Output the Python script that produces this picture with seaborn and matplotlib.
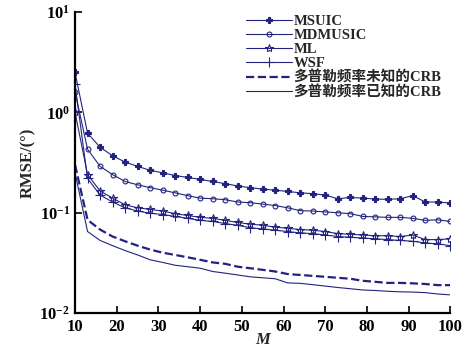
import numpy as np
import pandas as pd
import matplotlib
matplotlib.use('Agg')
import matplotlib.pyplot as plt
import seaborn as sns

# ---------------------------- DATA -----------------------------------

M = list(range(10, 101, 3))

msuic = [2.5, 0.62, 0.45, 0.37, 0.32, 0.29, 0.265, 0.25, 0.235, 0.225, 0.215,
         0.205, 0.195, 0.185, 0.178, 0.172, 0.168, 0.163, 0.158, 0.155, 0.150,
         0.138, 0.142, 0.140, 0.137, 0.136, 0.138, 0.148, 0.128, 0.128, 0.125]

mdmusic = [1.6, 0.43, 0.29, 0.24, 0.205, 0.19, 0.178, 0.168, 0.158, 0.148, 0.14,
           0.138, 0.135, 0.128, 0.126, 0.122, 0.118, 0.112, 0.105, 0.104, 0.102,
           0.100, 0.098, 0.092, 0.091, 0.090, 0.090, 0.088, 0.084, 0.085, 0.082]

ml = [1.0, 0.24, 0.165, 0.14, 0.12, 0.112, 0.108, 0.104, 0.098, 0.094, 0.090,
      0.088, 0.084, 0.080, 0.077, 0.075, 0.072, 0.070, 0.068, 0.067, 0.065,
      0.062, 0.061, 0.060, 0.059, 0.059, 0.058, 0.060, 0.054, 0.054, 0.055]

wsf = [1.9, 0.22, 0.15, 0.128, 0.112, 0.104, 0.099, 0.096, 0.092, 0.088, 0.084,
       0.082, 0.078, 0.075, 0.071, 0.069, 0.067, 0.065, 0.063, 0.062, 0.060,
       0.058, 0.057, 0.056, 0.055, 0.054, 0.053, 0.052, 0.050, 0.049, 0.047]

crb_unknown = [0.30, 0.085, 0.068, 0.058, 0.052, 0.047, 0.043, 0.040, 0.038, 0.036,
               0.034, 0.032, 0.031, 0.029, 0.028, 0.027, 0.026, 0.0245, 0.024,
               0.0235, 0.023, 0.0225, 0.022, 0.021, 0.0205, 0.020, 0.020, 0.0198,
               0.0195, 0.019, 0.019]

crb_known = [0.25, 0.065, 0.053, 0.047, 0.042, 0.038, 0.034, 0.032, 0.030, 0.029,
             0.028, 0.026, 0.025, 0.024, 0.023, 0.0225, 0.022, 0.020, 0.0198,
             0.0192, 0.0186, 0.018, 0.0175, 0.017, 0.0168, 0.0165, 0.0163, 0.0162,
             0.016, 0.0155, 0.0152]

labels = ["MSUIC", "MDMUSIC", "ML", "WSF",
          "多普勒频率未知的CRB", "多普勒频率已知的CRB"]

x_ticks = [10, 20, 30, 40, 50, 60, 70, 80, 90, 100]
y_ticks = [0.01, 0.1, 1, 10]
y_ticklabels = [r"$\mathbf{10^{-2}}$", r"$\mathbf{10^{-1}}$",
                r"$\mathbf{10^{0}}$", r"$\mathbf{10^{1}}$"]

# ---------------------------- PLOT -----------------------------------

sns.set_style("ticks")
plt.rcParams['font.family'] = ['Liberation Serif', 'Noto Sans CJK SC']
plt.rcParams['mathtext.fontset'] = 'custom'
plt.rcParams['mathtext.rm'] = 'Liberation Serif'
plt.rcParams['mathtext.bf'] = 'Liberation Serif:bold'

COLOR = "#23237f"

fig = plt.figure(figsize=(4.72, 3.55), dpi=100)
ax = fig.add_axes([0.159, 0.118, 0.795, 0.848])

series = [
    (msuic, dict(marker="P", markersize=4.5, markerfacecolor=COLOR, linestyle="-")),
    (mdmusic, dict(marker="o", markersize=3.5, markerfacecolor="none", linestyle="-")),
    (ml, dict(marker="*", markersize=6, markerfacecolor="none", linestyle="-")),
    (wsf, dict(marker="+", markersize=7, linestyle="-")),
    (crb_unknown, dict(marker=None, linestyle="--", linewidth=1.6)),
    (crb_known, dict(marker=None, linestyle="-")),
]

for (vals, style), lab in zip(series, labels):
    lw = style.pop("linewidth", 0.8)
    ls = style.pop("linestyle")
    sns.lineplot(x=M, y=vals, ax=ax, color=COLOR, linewidth=lw,
                 label=lab, markeredgecolor=COLOR, markeredgewidth=0.8,
                 **style).lines[-1].set_linestyle(ls)

ax.set_yscale("log")
ax.set_xlim(10, 100)
ax.set_ylim(0.01, 10)
ax.set_xticks(x_ticks)
ax.set_xticklabels([str(t) for t in x_ticks], fontsize=12, fontweight="bold")
ax.set_yticks(y_ticks)
ax.set_yticklabels(y_ticklabels, fontsize=12)
ax.minorticks_off()
ax.tick_params(direction="in", length=5, width=1.2, colors="black")
ax.tick_params(axis="x", pad=4)

for side in ["top", "right"]:
    ax.spines[side].set_visible(False)
for side in ["left", "bottom"]:
    ax.spines[side].set_linewidth(1.6)
    ax.spines[side].set_color("black")

ax.set_xlabel("M", fontsize=12, fontweight="bold", style="italic", labelpad=-2)
ax.set_ylabel("RMSE/(°)", fontsize=12, fontweight="bold", labelpad=2)

leg = ax.legend(loc="upper right", bbox_to_anchor=(1.0, 1.02), frameon=False,
                fontsize=10.5, handlelength=3.2, handletextpad=0.1,
                labelspacing=0.05, borderaxespad=0.2,
                prop={"family": ["Liberation Serif", "Noto Sans CJK SC"],
                      "weight": "bold", "size": 10.5})

fig.savefig("out.png", dpi=100)
